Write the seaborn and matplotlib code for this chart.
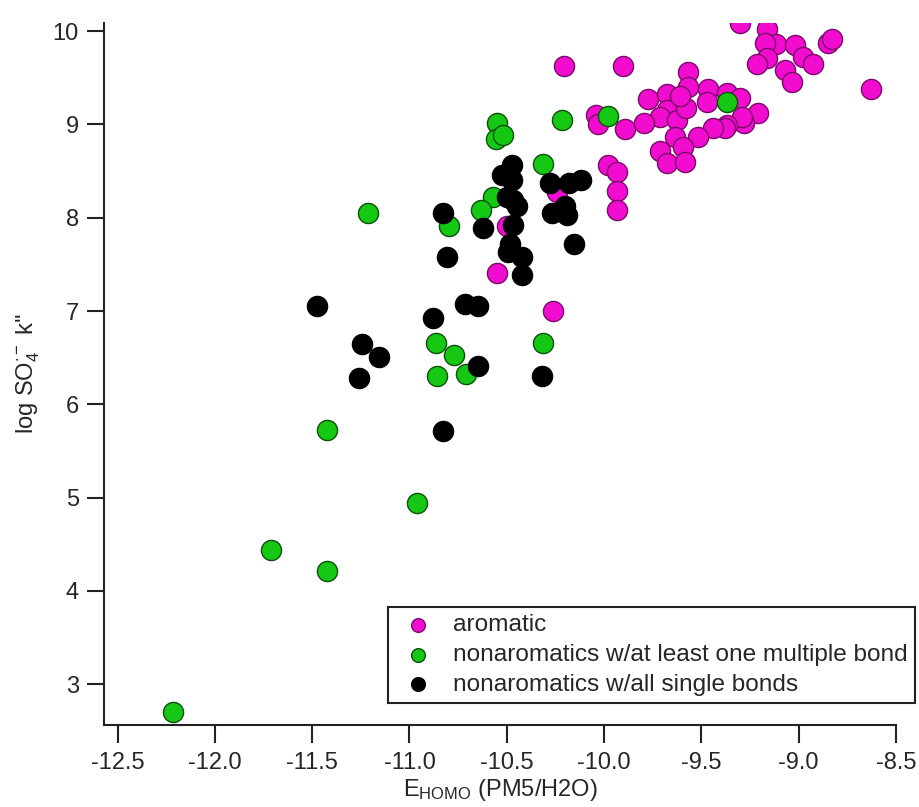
import pandas as pd
import seaborn as sns
import matplotlib.pyplot as plt


# aromatic compounds
aro_x=[-10.552,-10.262,-10.501,-10.244,-9.979,-9.933,-9.936,-9.936,-10.207,-9.905,
       -10.039,-10.03,-9.893,-9.302,-9.165,-9.117,-9.174,-9.02,-9.165,-9.216,
       -8.98,-8.925,-9.071,-9.033,-8.848,-8.831,-8.629,-9.568,-9.568,-9.773,
       -9.676,-9.679,-9.713,-9.627,-9.58,-9.61,-9.465,-9.473,-9.37,-9.302,
       -9.208,-9.282,-9.293,-9.37,-9.379,-9.442,-9.516,-9.636,-9.594,-9.713,
       -9.679,-9.585,-9.795]
aro_y=[7.41,7.00,7.91,8.28,8.56,8.49,8.29,8.08,9.62,9.62,
       9.10,9.00,8.95,10.09,10.02,9.86,9.87,9.85,9.71,9.65,
       9.72,9.65,9.58,9.45,9.87,9.91,9.375,9.56,9.40,9.27,
       9.325,9.15,9.08,9.05,9.18,9.30,9.375,9.24,9.34,9.285,
       9.125,9.01,9.075,8.99,8.96,8.96,8.86,8.86,8.76,8.71,
       8.59,8.60,9.01]

# nonaromatics with at least one multiple bond
multi_x=[-12.214,-11.712,-11.426,-10.96,-11.212,-11.423,-10.866,-10.772,-10.858,-10.712,
         -10.313,-10.549,-10.556,-10.522,-10.217,-9.979,-10.316,-10.57,-10.633,-10.796,
         -9.37]
multi_y=[2.70,4.44,4.21,4.94,8.05,5.72,6.66,6.53,6.30,6.32,
         6.66,9.01,8.84,8.89,9.05,9.09,8.58,8.22,8.08,7.91,
         9.24]

# nonaromatics with all single bonds
single_x=[-11.473,-11.246,-11.157,-11.258,-10.421,-10.715,-10.65,-10.881,-10.65,-10.318,
          -10.827,-10.475,-10.527,-10.475,-10.501,-10.467,-10.45,-10.827,-10.624,-10.47,
          -10.484,-10.493,-10.424,-10.806,-10.279,-10.179,-10.119,-10.27,-10.201,-10.193,
          -10.155]
single_y=[7.05,6.65,6.51,6.28,7.39,7.08,7.05,6.92,6.41,6.30,
          5.71,8.56,8.46,8.40,8.22,8.19,8.12,8.05,7.89,7.92,
          7.72,7.63,7.58,7.58,8.37,8.37,8.40,8.05,8.12,8.03,
          7.72]

groups=["aromatic","nonaromatics w/at least one multiple bond","nonaromatics w/all single bonds"]
face_colors=["#f20ccf","#14c814","#000000"]
edge_colors=["#7a0a6a","#0c500c","#000000"]

data=pd.concat([
    pd.DataFrame({"ehomo":aro_x,"logk":aro_y,"group":groups[0]}),
    pd.DataFrame({"ehomo":multi_x,"logk":multi_y,"group":groups[1]}),
    pd.DataFrame({"ehomo":single_x,"logk":single_y,"group":groups[2]}),
],ignore_index=True)

sns.set_style("ticks")
plt.rcParams["font.family"]=["Liberation Sans","DejaVu Sans"]
plt.rcParams["mathtext.fontset"]="custom"
plt.rcParams["mathtext.rm"]="Liberation Sans"
plt.rcParams["mathtext.it"]="Liberation Sans"

fig=plt.figure(figsize=(9.2,8.07),dpi=100)
ax=fig.add_axes([0.113,0.1022,0.8609,0.8693])

for grp,fc,ec in zip(groups,face_colors,edge_colors):
    sub=data[data["group"]==grp]
    sns.scatterplot(data=sub,x="ehomo",y="logk",ax=ax,color=fc,edgecolor=ec,
                    linewidth=1.0,s=210,label=grp,zorder=3)

ax.set_xlim(-12.57,-8.5)
ax.set_ylim(2.569,10.086)
ax.set_xticks([-12.5,-12.0,-11.5,-11.0,-10.5,-10.0,-9.5,-9.0,-8.5])
ax.set_xticklabels(["-12.5","-12.0","-11.5","-11.0","-10.5","-10.0","-9.5","-9.0","-8.5"])
ax.set_yticks([3,4,5,6,7,8,9,10])

sns.despine(ax=ax)
for side in ["left","bottom"]:
    ax.spines[side].set_linewidth(1.5)
    ax.spines[side].set_color("#222222")
ax.tick_params(axis="x",direction="out",length=13,width=1.5,pad=7,labelsize=17,color="#222222")
ax.tick_params(axis="y",direction="out",length=12,width=1.5,pad=6,labelsize=17,color="#222222")

ax.set_xlabel(r"E$_{\mathrm{HOMO}}$ (PM5/H2O)",fontsize=17,labelpad=2)
ax.set_ylabel(r"log SO$_4^{\bullet -}$ k''",fontsize=17,labelpad=8)

leg=ax.legend(loc="lower right",bbox_to_anchor=(1.024,0.0306),fontsize=17.6,markerscale=0.68,
              frameon=True,fancybox=False,edgecolor="#222222",framealpha=1,
              borderpad=0.3,labelspacing=0.31,handletextpad=0.55,handlelength=1.8,borderaxespad=0)
leg.get_frame().set_linewidth(1.5)
leg.set_zorder(5)

plt.savefig("out.png",dpi=100)
plt.close()
